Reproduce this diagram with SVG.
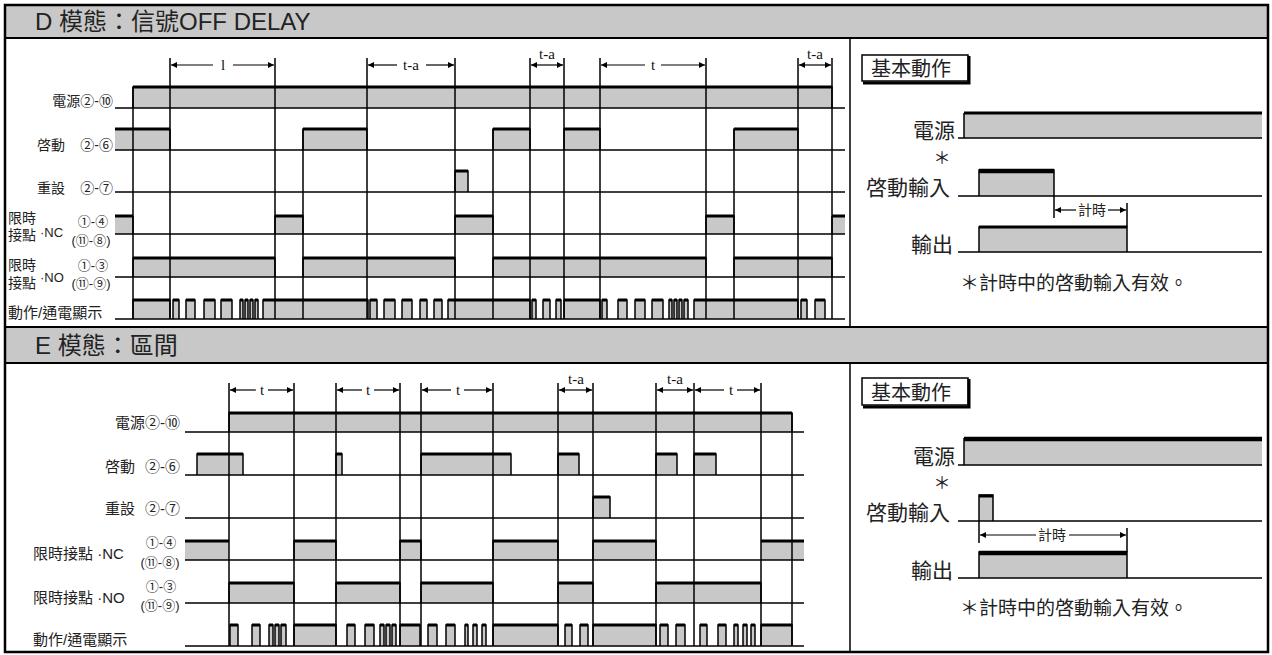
<svg xmlns="http://www.w3.org/2000/svg" width="1272" height="655" viewBox="0 0 1272 655">
<style>
text{font-family:"Liberation Sans","Noto Sans CJK TC",sans-serif;fill:#222}
.ser{font-family:"Liberation Serif","Noto Serif",serif;fill:#111;font-size:15px;text-anchor:middle}
.s{fill:#c8c8c8;stroke:#000;stroke-width:1.5}
.f{fill:#c8c8c8}
.t{fill:none;stroke:#000;stroke-width:3}
.t2{fill:none;stroke:#000;stroke-width:4.5}
.e{fill:none;stroke:#000;stroke-width:1.5}
.b{fill:none;stroke:#000;stroke-width:1.5}
.v{fill:none;stroke:#000;stroke-width:1.5}
.m{fill:none;stroke:#000;stroke-width:1.2;marker-end:url(#ah)}
.lb{font-size:14px;text-anchor:end}
.lb2{font-size:15px;text-anchor:end}
.sm{font-size:13px;text-anchor:middle}
.big{font-size:21px;text-anchor:end}
.star{font-size:17px;text-anchor:middle}
</style>
<defs>
<marker id="ah" viewBox="0 0 6 6" refX="6" refY="3" markerWidth="6" markerHeight="6" markerUnits="userSpaceOnUse" orient="auto"><path d="M0,0L6,3L0,6z" fill="#000"/></marker>
</defs>
<rect x="0" y="0" width="1272" height="655" fill="#fff"/>

<g id="frame">
<rect x="5" y="5" width="1263" height="33" fill="#c8c8c8"/>
<rect x="5" y="327" width="1263" height="36" fill="#c8c8c8"/>
<rect x="5" y="5" width="1263" height="647" fill="none" stroke="#000" stroke-width="2.5"/>
<path d="M5,38H1268M5,327H1268M5,363H1268" stroke="#000" stroke-width="2" fill="none"/>
<path d="M850,38V327M850,363V652" stroke="#000" stroke-width="1.5" fill="none"/>
<text x="35" y="30" font-size="24">D 模態：信號OFF DELAY</text>
<text x="35" y="354" font-size="24">E 模態：區間</text>
</g>

<g id="chart-d">
<g id="d-labels">
<text class="lb" x="113" y="106">電源②-⑩</text>
<text class="lb" x="65" y="150">啓動</text><text class="lb" x="113" y="150">②-⑥</text>
<text class="lb" x="65" y="193">重設</text><text class="lb" x="113" y="193">②-⑦</text>
<text x="8" y="223" font-size="14">限時</text><text x="8" y="240" font-size="14">接點</text>
<text x="40" y="237" font-size="13">·NC</text>
<text class="sm" x="93" y="226">①-④</text><text class="sm" x="91" y="245">(⑪-⑧)</text>
<text x="8" y="270" font-size="14">限時</text><text x="8" y="288" font-size="14">接點</text>
<text x="40" y="282" font-size="13">·NO</text>
<text class="sm" x="93" y="270">①-③</text><text class="sm" x="91" y="288">(⑪-⑨)</text>
<text x="8" y="318" font-size="15">動作/通電顯示</text>
</g>
<g id="d-signals">
<path class="s" d="M133,108V87H832V108"/>
<path class="t" d="M133,87H832"/>
<rect class="f" x="115" y="129" width="55" height="21"/>
<path class="s" d="M170,129V150M303,150V129H367V150M493,150V129H530V150M564,150V129H600V150M734,150V129H798V150"/>
<path class="t" d="M115,129H170M303,129H367M493,129H530M564,129H600M734,129H798"/>
<path class="s" d="M455,192V171H468V192"/>
<path class="t" d="M455,171H468"/>
<rect class="f" x="115" y="216" width="18" height="18"/>
<rect class="f" x="832" y="216" width="13" height="18"/>
<path class="s" d="M275,234V216H303V234M455,234V216H493V234M706,234V216H734V234"/>
<path class="e" d="M133,216V234M832,234V216"/>
<path class="t" d="M115,216H133M275,216H303M455,216H493M706,216H734M832,216H845"/>
<path class="s" d="M133,277V258H275V277M303,277V258H455V277M493,277V258H706V277M734,277V258H832V277"/>
<path class="t" d="M133,258H275M303,258H455M493,258H706M734,258H832"/>
<path class="s" d="M133,319V300H170V319M173,319V300H179V319M186,319V300H195V319M204,319V300H215V319M221,319V300H232V319M240,319V300H243V319M245,319V300H248V319M250,319V300H253V319M255,319V300H258V319M263,319V300H368V319M370,319V300H377V319M384,319V300H395V319M402,319V300H412V319M420,319V300H427V319M434,319V300H442V319M448,319V300H530V319M532,319V300H536V319M543,319V300H550V319M556,319V300H561V319M564,319V300H600V319M602,319V300H607V319M618,319V300H627V319M635,319V300H645V319M652,319V300H663V319M669,319V300H672V319M674,319V300H677V319M679,319V300H682V319M684,319V300H688V319M694,319V300H798V319M801,319V300H807V319M815,319V300H825V319"/>
<path class="t" d="M133,300H170M173,300H179M186,300H195M204,300H215M221,300H232M240,300H243M245,300H248M250,300H253M255,300H258M263,300H368M370,300H377M384,300H395M402,300H412M420,300H427M434,300H442M448,300H530M532,300H536M543,300H550M556,300H561M564,300H600M602,300H607M618,300H627M635,300H645M652,300H663M669,300H672M674,300H677M679,300H682M684,300H688M694,300H798M801,300H807M815,300H825"/>
</g>
<g id="d-connectors">
<path class="b" d="M115,108H845M115,150H845M115,192H845M115,234H845M115,277H845M115,319H845"/>
<path class="v" d="M133,87V319M170,58V319M275,58V319M303,129V319M367,58V319M455,58V319M493,129V319M530,58V319M564,58V319M600,58V319M706,58V319M734,129V319M798,58V319M832,58V319"/>
<path class="m" d="M213,65H171"/><path class="m" d="M233,65H274"/>
<text class="ser" x="223" y="70">l</text>
<path class="m" d="M397,65H368"/><path class="m" d="M426,65H454"/>
<text class="ser" x="411" y="70">t-a</text>
<path class="m" d="M547,65H531"/><path class="m" d="M547,65H563"/>
<text class="ser" x="547" y="59">t-a</text>
<path class="m" d="M645,65H601"/><path class="m" d="M661,65H705"/>
<text class="ser" x="653" y="70">t</text>
<path class="m" d="M815,65H799"/><path class="m" d="M815,65H831"/>
<text class="ser" x="815" y="59">t-a</text>
</g>
</g>

<g id="basic-d">
<rect x="862" y="55" width="106" height="26" fill="#fff" stroke="#000" stroke-width="1.5"/>
<path d="M969,56V83H863" fill="none" stroke="#000" stroke-width="3"/>
<text x="871" y="76" font-size="20">基本動作</text>
<text class="big" x="955" y="138">電源</text>
<text class="star" x="942" y="164">＊</text>
<text class="big" x="950" y="195">啓動輸入</text>
<text class="big" x="953" y="252">輸出</text>
<path class="f" d="M964,113H1262V138H964z"/>
<path class="e" d="M964,138V113"/>
<path class="t" d="M964,113H1262"/>
<path class="s" d="M979,196V170H1054V196"/>
<path class="t2" d="M979,171H1054"/>
<path class="s" d="M979,252V227H1127V252"/>
<path class="t" d="M979,227H1127"/>
<path class="b" d="M958,138H1262M958,196H1262M958,252H1262"/>
<path class="e" d="M1054,196V218M1127,203V227"/>
<path class="m" d="M1076,210H1055"/><path class="m" d="M1108,210H1126"/>
<text x="1092" y="215" font-size="14" text-anchor="middle">計時</text>
<text x="960" y="290" font-size="19">＊計時中的啓動輸入有效。</text>
</g>

<g id="chart-e">
<g id="e-labels">
<text class="lb2" x="180" y="428">電源②-⑩</text>
<text class="lb2" x="135" y="472">啓動</text><text class="lb2" x="180" y="472">②-⑥</text>
<text class="lb2" x="135" y="514">重設</text><text class="lb2" x="180" y="514">②-⑦</text>
<text x="33" y="559" font-size="15">限時接點 ·NC</text>
<text class="sm" x="161" y="547">①-④</text><text class="sm" x="160" y="567">(⑪-⑧)</text>
<text x="33" y="603" font-size="15">限時接點 ·NO</text>
<text class="sm" x="161" y="591">①-③</text><text class="sm" x="160" y="610">(⑪-⑨)</text>
<text x="33" y="645" font-size="15">動作/通電顯示</text>
</g>
<g id="e-signals">
<path class="s" d="M229,432V413H792V432"/>
<path class="t" d="M229,413H792"/>
<path class="s" d="M197,475V454H243V475M336,475V454H342V475M421,475V454H511V475M558,475V454H579V475M656,475V454H677V475M694,475V454H716V475"/>
<path class="t" d="M197,454H243M336,454H342M421,454H511M558,454H579M656,454H677M694,454H716"/>
<path class="s" d="M593,518V497H610V518"/>
<path class="t" d="M593,497H610"/>
<rect class="f" x="185" y="541" width="44" height="19"/>
<rect class="f" x="761" y="541" width="43" height="19"/>
<path class="s" d="M294,560V541H336V560M400,560V541H421V560M493,560V541H558V560M593,560V541H656V560"/>
<path class="t" d="M185,541H229M294,541H336M400,541H421M493,541H558M593,541H656M761,541H804"/>
<path class="s" d="M229,603V583H294V603M336,603V583H400V603M421,603V583H493V603M558,603V583H593V603M656,603V583H761V603"/>
<path class="t" d="M229,583H294M336,583H400M421,583H493M558,583H593M656,583H761"/>
<path class="s" d="M230,646V625H238V646M252,646V625H260V646M269,646V625H273V646M275,646V625H279V646M281,646V625H286V646M294,646V625H336V646M347,646V625H355V646M365,646V625H374V646M380,646V625H384V646M386,646V625H390V646M392,646V625H396V646M400,646V625H420V646M428,646V625H437V646M446,646V625H455V646M465,646V625H468V646M473,646V625H477V646M482,646V625H486V646M493,646V625H558V646M565,646V625H572V646M580,646V625H588V646M593,646V625H656V646M660,646V625H668V646M676,646V625H685V646M700,646V625H707V646M718,646V625H726V646M734,646V625H738V646M743,646V625H747V646M751,646V625H755V646M761,646V625H792V646"/>
<path class="t" d="M230,625H238M252,625H260M269,625H273M275,625H279M281,625H286M294,625H336M347,625H355M365,625H374M380,625H384M386,625H390M392,625H396M400,625H420M428,625H437M446,625H455M465,625H468M473,625H477M482,625H486M493,625H558M565,625H572M580,625H588M593,625H656M660,625H668M676,625H685M700,625H707M718,625H726M734,625H738M743,625H747M751,625H755M761,625H792"/>
</g>
<g id="e-connectors">
<path class="b" d="M185,432H804M185,475H804M185,518H804M185,560H804M185,603H804M185,646H804"/>
<path class="v" d="M229,383V646M294,383V646M336,383V646M400,383V646M421,383V646M493,383V646M558,383V646M593,383V646M656,383V646M694,383V646M761,383V646M792,413V646"/>
<path class="m" d="M256,390H230"/><path class="m" d="M268,390H293"/>
<text class="ser" x="262" y="395">t</text>
<path class="m" d="M362,390H337"/><path class="m" d="M374,390H399"/>
<text class="ser" x="368" y="395">t</text>
<path class="m" d="M451,390H422"/><path class="m" d="M464,390H492"/>
<text class="ser" x="458" y="395">t</text>
<path class="m" d="M575,390H559"/><path class="m" d="M575,390H592"/>
<text class="ser" x="576" y="384">t-a</text>
<path class="m" d="M675,390H657"/><path class="m" d="M675,390H693"/>
<text class="ser" x="675" y="384">t-a</text>
<path class="m" d="M724,390H695"/><path class="m" d="M737,390H760"/>
<text class="ser" x="731" y="395">t</text>
</g>
</g>

<g id="basic-e">
<rect x="862" y="378" width="106" height="27" fill="#fff" stroke="#000" stroke-width="1.5"/>
<path d="M969,379V407H863" fill="none" stroke="#000" stroke-width="3"/>
<text x="871" y="400" font-size="20">基本動作</text>
<text class="big" x="955" y="464">電源</text>
<text class="star" x="942" y="489">＊</text>
<text class="big" x="950" y="520">啓動輸入</text>
<text class="big" x="953" y="578">輸出</text>
<path class="f" d="M964,438H1262V465H964z"/>
<path class="e" d="M964,465V438"/>
<path class="t2" d="M964,439H1262"/>
<path class="s" d="M979,521V495H993V521"/>
<path class="t" d="M979,496H993"/>
<path class="s" d="M979,578V552H1127V578"/>
<path class="t2" d="M979,553H1127"/>
<path class="b" d="M958,465H1262M958,521H1262M958,578H1262"/>
<path class="e" d="M979,521V543M1127,528V552"/>
<path class="m" d="M1036,535H980"/><path class="m" d="M1069,535H1126"/>
<text x="1052" y="540" font-size="14" text-anchor="middle">計時</text>
<text x="960" y="615" font-size="19">＊計時中的啓動輸入有效。</text>
</g>
</svg>
